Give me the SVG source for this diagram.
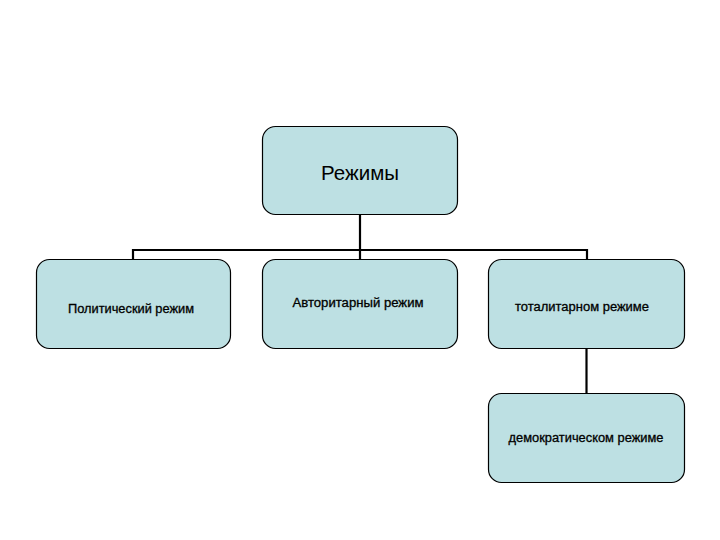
<svg xmlns="http://www.w3.org/2000/svg" width="720" height="540" viewBox="0 0 720 540">
<style>
.box{fill:#bde0e3;stroke:#000;stroke-width:1.2}
.t{font-family:"Liberation Sans",Arial,sans-serif;font-size:12.5px;fill:#000;text-anchor:middle;stroke:#000;stroke-width:0.3}
.c{fill:none;stroke:#000;stroke-width:2.2}
</style>
<rect width="720" height="540" fill="#fff"/>
<g id="connectors">
<path class="c" d="M360 215V250M133 250H587M133 249V260M360 249V260M587 249V260"/>
<path class="c" d="M586.5 348V393" stroke-width="3"/>
</g>
<g id="n0"><rect class="box" x="262.5" y="126.5" width="195" height="88" rx="13"/><text x="360" y="180" textLength="78" lengthAdjust="spacingAndGlyphs" style="font-family:'Liberation Sans',Arial,sans-serif;font-size:20px;text-anchor:middle">Режимы</text></g>
<g id="n1"><rect class="box" x="36.5" y="259.5" width="194" height="89" rx="13"/><text class="t" x="131" y="313" textLength="126" lengthAdjust="spacingAndGlyphs">Политический режим</text></g>
<g id="n2"><rect class="box" x="262.5" y="259.5" width="195" height="89" rx="13"/><text class="t" x="358" y="307" textLength="131" lengthAdjust="spacingAndGlyphs">Авторитарный режим</text></g>
<g id="n3"><rect class="box" x="488.5" y="259.5" width="196" height="89" rx="13"/><text class="t" x="582" y="311" textLength="134" lengthAdjust="spacingAndGlyphs">тоталитарном режиме</text></g>
<g id="n4"><rect class="box" x="488.5" y="393.5" width="196" height="89" rx="13"/><text class="t" x="586" y="442" textLength="155" lengthAdjust="spacingAndGlyphs">демократическом режиме</text></g>
</svg>
